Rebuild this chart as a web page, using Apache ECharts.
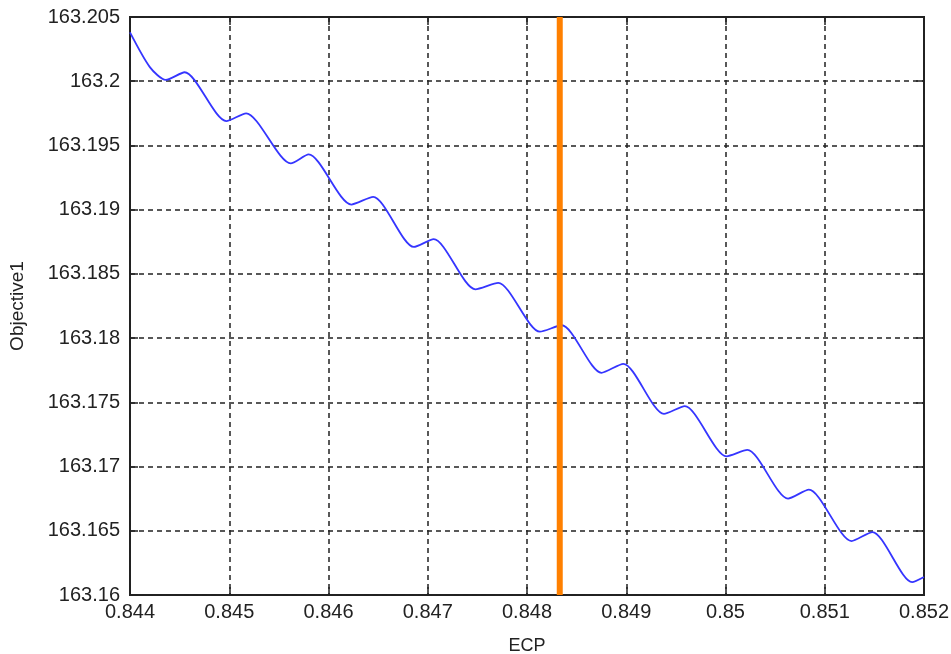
<!DOCTYPE html>
<html>
<head>
<meta charset="utf-8">
<script src="https://cdn.jsdelivr.net/npm/echarts@6/dist/echarts.min.js"></script>
<style>html,body{margin:0;padding:0;background:#fff;}#c{width:951px;height:654px;}</style>
</head>
<body>
<div id="c"></div>
<script>
const ecpValues = [0.8440, 0.84420, 0.84436, 0.84455, 0.84497, 0.84517, 0.84562, 0.84580, 0.84623, 0.84645, 0.84686, 0.84706, 0.84748, 0.84771, 0.84813, 0.84835, 0.84875, 0.84897, 0.84938, 0.84959, 0.85001, 0.85022, 0.85063, 0.85084, 0.85127, 0.85148, 0.85188, 0.8520];
const objectiveValues = [163.2038, 163.2011, 163.2001, 163.2007, 163.1969, 163.1975, 163.1936, 163.1943, 163.1904, 163.1910, 163.1871, 163.1877, 163.1838, 163.1843, 163.1805, 163.1810, 163.1773, 163.1780, 163.1741, 163.1747, 163.1708, 163.1713, 163.1675, 163.1682, 163.1642, 163.1649, 163.1610, 163.1614];
const markerX = [0.84833];
const xRange = [0.844, 0.852, 0.001];
const yRange = [163.16, 163.205, 0.005];
const xName = 'ECP';
const yName = 'Objective1';

const font = 'Arial, "Liberation Sans", sans-serif';
const chart = echarts.init(document.getElementById('c'));
const gridStyle = { show: true, lineStyle: { color: '#222', width: 1.5, type: [5, 4] } };
const tickStyle = { show: true, inside: true, length: 8, lineStyle: { color: '#222', width: 1.5 } };
const fmtX = v => String(+v.toFixed(3));
const fmtY = v => String(+v.toFixed(3));

chart.setOption({
  animation: false,
  backgroundColor: '#fff',
  grid: { left: 130, right: 27, top: 17, bottom: 59, show: true, borderColor: '#222', borderWidth: 2, containLabel: false, outerBoundsMode: 'none' },
  xAxis: [{
    type: 'value', min: xRange[0], max: xRange[1], interval: xRange[2],
    name: xName, nameLocation: 'middle', nameGap: 42,
    nameTextStyle: { fontFamily: font, fontSize: 18, color: '#222' },
    axisLine: { show: false }, axisTick: tickStyle, splitLine: gridStyle,
    axisLabel: { fontFamily: font, fontSize: 20, color: '#222', margin: 7, formatter: fmtX }
  }, {
    type: 'value', position: 'top', min: xRange[0], max: xRange[1], interval: xRange[2],
    axisLine: { show: false }, axisTick: tickStyle, splitLine: { show: false }, axisLabel: { show: false }
  }],
  yAxis: [{
    type: 'value', min: yRange[0], max: yRange[1], interval: yRange[2],
    name: yName, nameLocation: 'middle', nameGap: 103,
    nameTextStyle: { fontFamily: font, fontSize: 19, color: '#222' },
    axisLine: { show: false }, axisTick: tickStyle, splitLine: gridStyle,
    axisLabel: { fontFamily: font, fontSize: 20, color: '#222', margin: 10, formatter: fmtY }
  }, {
    type: 'value', position: 'right', min: yRange[0], max: yRange[1], interval: yRange[2],
    axisLine: { show: false }, axisTick: tickStyle, splitLine: { show: false }, axisLabel: { show: false }
  }],
  series: [{
    type: 'line',
    data: ecpValues.map((x, i) => [x, objectiveValues[i]]),
    smooth: 0.25,
    showSymbol: false,
    lineStyle: { color: '#3535ff', width: 1.8 },
    z: 3
  }, {
    type: 'line',
    data: [[markerX[0], yRange[0]], [markerX[0], yRange[1]]],
    showSymbol: false,
    lineStyle: { color: '#ff8000', width: 6 },
    z: 4
  }]
});
</script>
</body>
</html>
